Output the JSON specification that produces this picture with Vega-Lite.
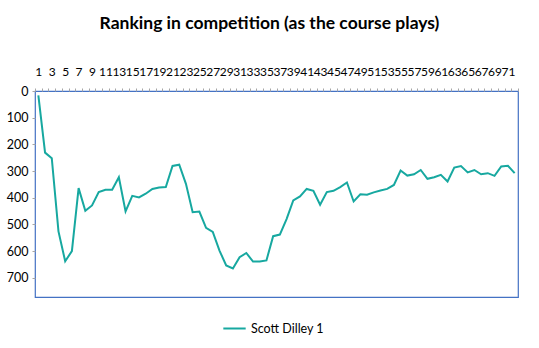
{
  "$schema": "https://vega.github.io/schema/vega-lite/v6.json",
  "width": 483,
  "height": 206,
  "autosize": {"type": "none"},
  "padding": {"left": 35, "top": 91, "right": 21, "bottom": 51},
  "background": "white",
  "title": {"text": "Ranking in competition (as the course plays)", "font": "Lato", "fontSize": 17.5, "fontWeight": "bold", "color": "#000000", "anchor": "middle", "offset": 33, "dx": -7},
  "config": {"view": {"stroke": "#4472C4", "strokeWidth": 1.2}},
  "data": {"values": [
    {"hole": 1, "rank": 16}, {"hole": 2, "rank": 231}, {"hole": 3, "rank": 252}, {"hole": 4, "rank": 526},
    {"hole": 5, "rank": 638}, {"hole": 6, "rank": 600}, {"hole": 7, "rank": 364}, {"hole": 8, "rank": 449},
    {"hole": 9, "rank": 429}, {"hole": 10, "rank": 379}, {"hole": 11, "rank": 370}, {"hole": 12, "rank": 370},
    {"hole": 13, "rank": 323}, {"hole": 14, "rank": 451}, {"hole": 15, "rank": 393}, {"hole": 16, "rank": 399},
    {"hole": 17, "rank": 385}, {"hole": 18, "rank": 367}, {"hole": 19, "rank": 362}, {"hole": 20, "rank": 360},
    {"hole": 21, "rank": 281}, {"hole": 22, "rank": 276}, {"hole": 23, "rank": 348}, {"hole": 24, "rank": 454},
    {"hole": 25, "rank": 452}, {"hole": 26, "rank": 513}, {"hole": 27, "rank": 528}, {"hole": 28, "rank": 598},
    {"hole": 29, "rank": 654}, {"hole": 30, "rank": 665}, {"hole": 31, "rank": 623}, {"hole": 32, "rank": 607},
    {"hole": 33, "rank": 639}, {"hole": 34, "rank": 639}, {"hole": 35, "rank": 635}, {"hole": 36, "rank": 544},
    {"hole": 37, "rank": 538}, {"hole": 38, "rank": 480}, {"hole": 39, "rank": 410}, {"hole": 40, "rank": 395},
    {"hole": 41, "rank": 367}, {"hole": 42, "rank": 374}, {"hole": 43, "rank": 426}, {"hole": 44, "rank": 379},
    {"hole": 45, "rank": 374}, {"hole": 46, "rank": 360}, {"hole": 47, "rank": 343}, {"hole": 48, "rank": 414},
    {"hole": 49, "rank": 387}, {"hole": 50, "rank": 389}, {"hole": 51, "rank": 380}, {"hole": 52, "rank": 373},
    {"hole": 53, "rank": 367}, {"hole": 54, "rank": 352}, {"hole": 55, "rank": 298}, {"hole": 56, "rank": 317},
    {"hole": 57, "rank": 312}, {"hole": 58, "rank": 296}, {"hole": 59, "rank": 329}, {"hole": 60, "rank": 323},
    {"hole": 61, "rank": 314}, {"hole": 62, "rank": 339}, {"hole": 63, "rank": 287}, {"hole": 64, "rank": 281},
    {"hole": 65, "rank": 305}, {"hole": 66, "rank": 296}, {"hole": 67, "rank": 312}, {"hole": 68, "rank": 308},
    {"hole": 69, "rank": 318}, {"hole": 70, "rank": 283}, {"hole": 71, "rank": 280}, {"hole": 72, "rank": 308}
  ]},
  "transform": [{"calculate": "'Scott Dilley 1'", "as": "series"}],
  "mark": {"type": "line", "strokeWidth": 2},
  "encoding": {
    "x": {
      "field": "hole", "type": "ordinal", "sort": "ascending",
      "scale": {"paddingInner": 0, "paddingOuter": 0, "align": 0.5},
      "axis": {
        "orient": "top", "title": null, "labelAngle": 0, "labelOverlap": false,
        "labelExpr": "datum.value % 2 == 1 ? datum.label : ''",
        "labelFont": "Lato", "labelFontSize": 12, "labelColor": "#000000",
        "labelPadding": 10, "tickBand": "extent", "tickSize": 3, "tickColor": "#a6a6a6",
        "domain": false
      }
    },
    "y": {
      "field": "rank", "type": "quantitative",
      "scale": {"domain": [0, 772], "reverse": true, "nice": false, "zero": true},
      "axis": {
        "title": null, "values": [0, 100, 200, 300, 400, 500, 600, 700], "grid": false,
        "labelFont": "Lato", "labelFontSize": 12.5, "labelColor": "#000000",
        "tickSize": 3, "tickColor": "#a6a6a6", "labelPadding": 4, "domain": false
      }
    },
    "color": {
      "field": "series", "type": "nominal",
      "scale": {"range": ["#17a8a0"]},
      "legend": {
        "title": null, "orient": "none", "legendX": 187, "legendY": 225,
        "symbolType": "stroke", "symbolStrokeWidth": 2, "symbolSize": 500,
        "labelFont": "Lato", "labelFontSize": 12.5, "labelColor": "#000000"
      }
    }
  }
}
